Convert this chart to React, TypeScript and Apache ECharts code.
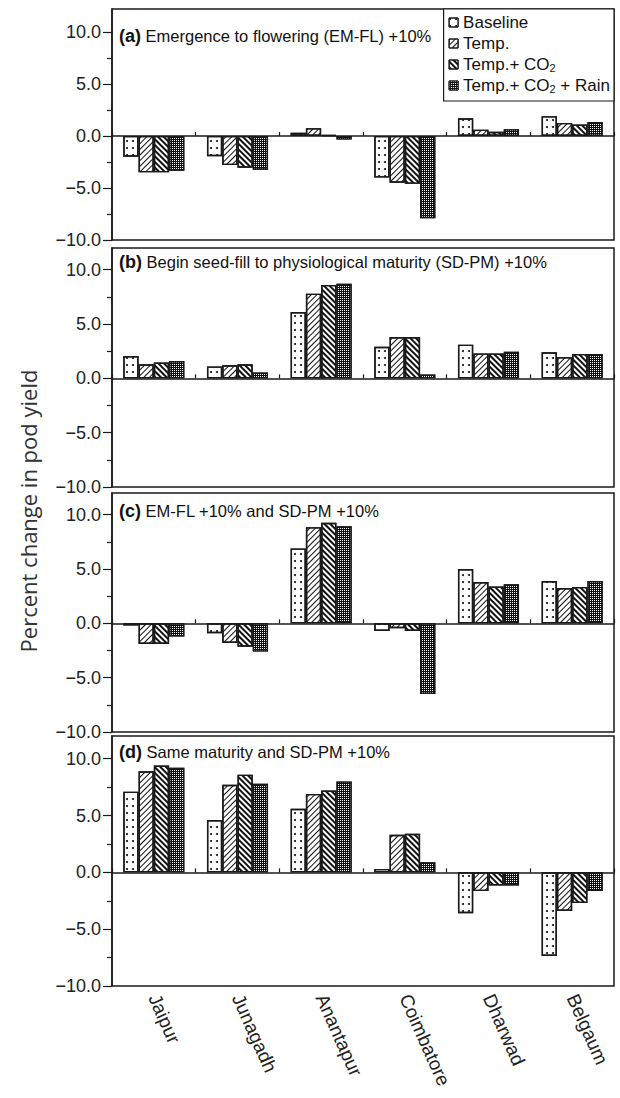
import React, { useEffect, useRef } from "react";
import * as echarts from "echarts";

const cities = ["Jaipur", "Junagadh", "Anantapur", "Coimbatore", "Dharwad", "Belgaum"];
const seriesNames = ["Baseline", "Temp.", "Temp.+ CO2", "Temp.+ CO2 + Rain"];
const panelLetters = ["(a)", "(b)", "(c)", "(d)"];
const panelTexts = [
  "Emergence to flowering (EM-FL) +10%",
  "Begin seed-fill to physiological maturity (SD-PM) +10%",
  "EM-FL +10% and SD-PM +10%",
  "Same maturity and SD-PM +10%",
];
const yLabelValues = [-10, -5, 0, 5, 10];
const yMinorValues = [-7.5, -2.5, 2.5, 7.5];
const yAxisTitle = "Percent change in pod yield";

// (a) Emergence to flowering +10%
const aBaseline = [-2.0, -1.95, 0.3, -4.0, 1.7, 1.9];
const aTemp = [-3.5, -2.8, 0.75, -4.5, 0.6, 1.25];
const aTempCO2 = [-3.5, -3.05, 0.1, -4.6, 0.4, 1.1];
const aTempCO2Rain = [-3.35, -3.25, -0.35, -7.9, 0.65, 1.35];

// (b) Begin seed-fill to physiological maturity +10%
const bBaseline = [2.05, 1.1, 6.1, 2.9, 3.1, 2.4];
const bTemp = [1.3, 1.2, 7.8, 3.8, 2.3, 1.95];
const bTempCO2 = [1.45, 1.3, 8.6, 3.8, 2.3, 2.25];
const bTempCO2Rain = [1.6, 0.55, 8.7, 0.35, 2.45, 2.25];

// (c) EM-FL +10% and SD-PM +10%
const cBaseline = [-0.2, -0.9, 6.9, -0.7, 5.0, 3.9];
const cTemp = [-1.9, -1.8, 8.85, -0.45, 3.8, 3.25];
const cTempCO2 = [-1.9, -2.15, 9.25, -0.7, 3.4, 3.35];
const cTempCO2Rain = [-1.2, -2.6, 8.95, -6.5, 3.6, 3.9];

// (d) Same maturity and SD-PM +10%
const dBaseline = [7.1, 4.6, 5.6, 0.3, -3.6, -7.35];
const dTemp = [8.9, 7.7, 6.9, 3.3, -1.65, -3.4];
const dTempCO2 = [9.4, 8.6, 7.2, 3.4, -1.15, -2.7];
const dTempCO2Rain = [9.2, 7.8, 8.0, 0.9, -1.15, -1.65];

const panels = [
  [aBaseline, aTemp, aTempCO2, aTempCO2Rain],
  [bBaseline, bTemp, bTempCO2, bTempCO2Rain],
  [cBaseline, cTemp, cTempCO2, cTempCO2Rain],
  [dBaseline, dTemp, dTempCO2, dTempCO2Rain],
];

const FONT = "Liberation Sans, Arial, sans-serif";
const INK = "#1a1a1a";

export default function App() {
  const ref = useRef<HTMLDivElement>(null);

  useEffect(() => {
    if (!ref.current) return;
    const chart = echarts.init(ref.current, null, { renderer: "svg" });

    const gridBoxes = [
      { top: 9, height: 231 },
      { top: 248, height: 239 },
      { top: 493, height: 239 },
      { top: 736, height: 250 },
    ];
    const yMax = [12.2, 12, 12, 12];
    const titleY = [36, 262, 511, 752];

    const barStyles: any[] = [
      {
        color: "#ffffff",
        borderColor: INK,
        borderWidth: 1.4,
        decal: { symbol: "circle", symbolSize: 1, dashArrayX: [1.5, 4], dashArrayY: [1.5, 5], color: "#111" },
      },
      {
        color: "#ffffff",
        borderColor: INK,
        borderWidth: 1.4,
        decal: { symbol: "rect", symbolSize: 1, dashArrayX: [1, 0], dashArrayY: [0.8, 2.6], rotation: -Math.PI / 4, color: "#111" },
      },
      {
        color: "#ffffff",
        borderColor: INK,
        borderWidth: 1.4,
        decal: { symbol: "rect", symbolSize: 1, dashArrayX: [1, 0], dashArrayY: [1.8, 1.9], rotation: Math.PI / 4, color: "#111" },
      },
      {
        color: "#111111",
        borderColor: INK,
        borderWidth: 1.4,
        decal: { symbol: "rect", symbolSize: 1, dashArrayX: [1, 1], dashArrayY: [1, 1], color: "#ffffff" },
      },
    ];

    const grid = gridBoxes.map((g) => ({
      left: 112,
      width: 502,
      top: g.top,
      height: g.height,
      show: true,
      borderColor: INK,
      borderWidth: 1.5,
      backgroundColor: "transparent",
      containLabel: false,
    }));

    const xAxis: any[] = gridBoxes.map((_, i) => ({
      type: "category",
      gridIndex: i,
      data: cities,
      axisLine: { show: true, onZero: true, lineStyle: { color: INK, width: 1.5 } },
      axisTick: { show: true, inside: true, length: 4, lineStyle: { color: INK, width: 1.2 } },
      axisLabel: { show: false },
      splitLine: { show: false },
    }));
    xAxis.push({
      type: "category",
      gridIndex: 3,
      data: cities,
      position: "bottom",
      axisLine: { show: false, onZero: false },
      axisTick: { show: false },
      axisLabel: {
        show: true,
        interval: 0,
        rotate: -66,
        margin: 9,
        fontSize: 19,
        fontFamily: FONT,
        color: "#222",
      },
    });

    const yAxis: any[] = [];
    gridBoxes.forEach((_, i) => {
      yAxis.push({
        type: "value",
        gridIndex: i,
        position: "left",
        min: -10,
        max: yMax[i],
        axisLine: { show: true, lineStyle: { color: INK, width: 1.5 } },
        axisTick: { show: true, inside: false, length: 9, customValues: yLabelValues, lineStyle: { color: INK, width: 1.2 } },
        axisLabel: {
          show: true,
          customValues: yLabelValues,
          margin: 11,
          fontSize: 18,
          fontFamily: FONT,
          color: "#222",
          formatter: (v: number) => (v < 0 ? "\u2212" + Math.abs(v).toFixed(1) : v.toFixed(1)),
        },
        splitLine: { show: false },
      });
    });
    gridBoxes.forEach((_, i) => {
      yAxis.push({
        type: "value",
        gridIndex: i,
        position: "left",
        offset: 0,
        min: -10,
        max: yMax[i],
        axisLine: { show: false },
        axisTick: { show: true, inside: false, length: 5, customValues: yMinorValues, lineStyle: { color: INK, width: 1.2 } },
        axisLabel: { show: false },
        splitLine: { show: false },
      });
    });

    const series: any[] = [];
    panels.forEach((panel, pi) => {
      panel.forEach((values, si) => {
        series.push({
          type: "bar",
          name: seriesNames[si],
          xAxisIndex: pi,
          yAxisIndex: pi,
          data: values,
          barGap: "0%",
          barCategoryGap: "27%",
          itemStyle: barStyles[si],
          emphasis: { disabled: true },
        });
      });
    });

    const graphic: any[] = panelTexts.map((t, i) => ({
      type: "text",
      x: 119,
      y: titleY[i],
      z: 10,
      style: {
        text: `{b|${panelLetters[i]}}{n| ${t}}`,
        verticalAlign: "middle",
        align: "left",
        rich: {
          b: { fontSize: 18, fontWeight: "bold", fontFamily: FONT, fill: "#111" },
          n: { fontSize: 16.5, fontFamily: FONT, fill: "#111" },
        },
      },
    }));
    graphic.push({
      type: "text",
      x: 28,
      y: 511,
      rotation: Math.PI / 2,
      style: {
        text: yAxisTitle,
        fontSize: 22,
        fontFamily: "Open Sans, Noto Sans, sans-serif",
        fill: "#333",
        align: "center",
        verticalAlign: "middle",
      },
    });

    chart.setOption({
      animation: false,
      backgroundColor: "#ffffff",
      grid,
      xAxis,
      yAxis,
      series,
      graphic,
      legend: {
        data: seriesNames,
        orient: "vertical",
        right: 6,
        top: 9,
        icon: "rect",
        itemWidth: 9,
        itemHeight: 9,
        itemGap: 4,
        selectedMode: false,
        backgroundColor: "#ffffff",
        borderColor: INK,
        borderWidth: 1.2,
        padding: [5, 4, 7, 5],
        z: 20,
        itemStyle: { borderColor: INK, borderWidth: 1 },
        formatter: (n: string) => n.replace("CO2", "CO{sub|2}"),
        textStyle: {
          fontSize: 17,
          fontFamily: FONT,
          color: "#111",
          lineHeight: 17,
          rich: {
            sub: { fontSize: 11, fontFamily: FONT, color: "#111", lineHeight: 6, verticalAlign: "bottom" },
          },
        },
      },
    });

    return () => chart.dispose();
  }, []);

  return (
    <div
      ref={ref}
      style={{ position: "absolute", left: 0, top: 0, width: 620, height: 1098, background: "#fff" }}
    />
  );
}
